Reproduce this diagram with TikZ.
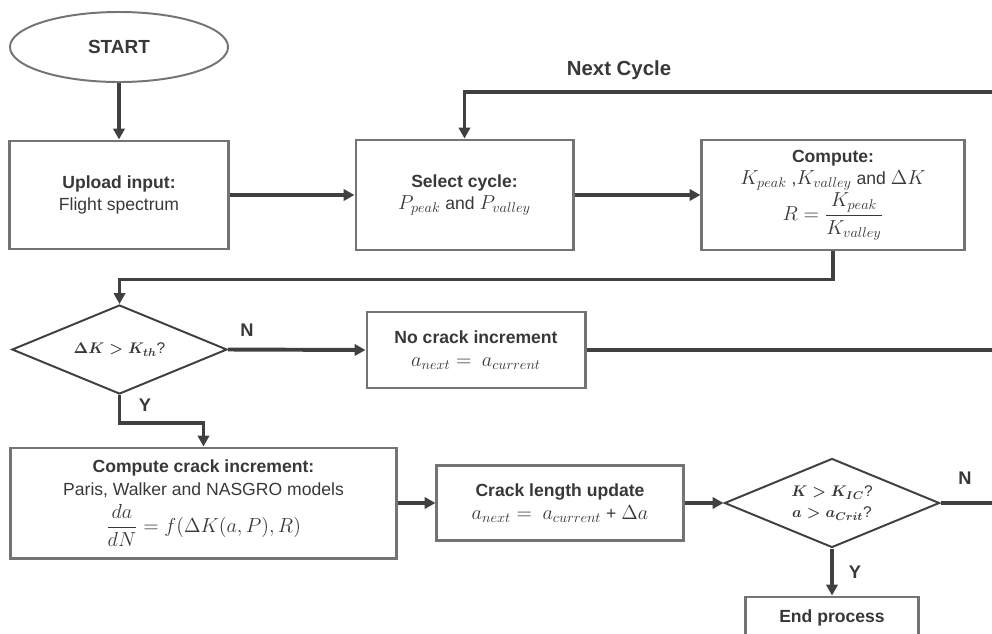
\documentclass[tikz,border=0pt]{standalone}
\usepackage{fontspec}
\setmainfont{Liberation Sans}
\usepackage{amsmath}
\usetikzlibrary{shapes.geometric,arrows.meta}

\DeclareMathSizes{12.5}{13.8}{10}{8}

\definecolor{linegray}{HTML}{404040}
\definecolor{boxgray}{HTML}{747474}
\definecolor{txtgray}{HTML}{383838}

\begin{document}
\begin{tikzpicture}[
                x = 0.025cm, y = -0.025cm,
                > = {Triangle[length=2.7mm, width=2.8mm]},
                every node/.style={ text = txtgray, font = \fontsize{12.5}{16}\selectfont },
                terminal/.style={ ellipse, draw = boxgray, line width = 1.4pt, minimum width = 5.45cm, minimum height = 1.75cm },
                box/.style={ rectangle, draw = boxgray, line width = 2.1pt, align = center },
                decision/.style={ diamond, aspect = 2.4, draw = linegray, line width = 1.4pt, align = center, inner sep = 0pt,
                                  minimum width = 5.375cm, minimum height = 2.225cm,
                                  font = \fontsize{11}{15}\selectfont\boldmath },
                flow/.style={ ->, draw = linegray, line width = 2.8pt },
                wire/.style={ draw = linegray, line width = 2.8pt },
                yn/.style={ font = \bfseries\fontsize{13}{15}\selectfont }
            ]
            \useasboundingbox (0,0) rectangle (992,633);

            \node (start)    [terminal, font=\bfseries\fontsize{13.5}{16}\selectfont] at (119,47) {START};
            \node (upload)   [box, minimum width=5.45cm, minimum height=2.7cm]    at (119,195) {\textbf{Upload input:}\\Flight spectrum};
            \node (select)   [box, minimum width=5.425cm, minimum height=2.75cm]  at (464.5,195) {\textbf{Select cycle:}\\$P_{peak}$ and $P_{valley}$};
            \node (compute)  [box, minimum width=6.55cm, minimum height=2.75cm]   at (833,195) {\textbf{Compute:}\\$K_{peak}$ ,$K_{valley}$ and $\Delta K$\\[1pt]$R = \dfrac{K_{peak}}{K_{valley}}$};
            \node (check)    [decision] at (119.5,349.5) {$\Delta K > K_{th}$?};
            \node (nocrack)  [box, minimum width=5.45cm, minimum height=1.9cm]    at (476,350) {\textbf{No crack increment}\\$a_{next} = \ a_{current}$};
            \node (crackinc) [box, minimum width=9.625cm, minimum height=2.75cm]  at (203.5,503) {\textbf{Compute crack increment:}\\Paris, Walker and NASGRO models\\[4pt]$\dfrac{da}{dN} = f(\Delta K(a,P),R)$};
            \node (update)   [box, minimum width=6.15cm, minimum height=1.875cm]  at (560,503) {\textbf{Crack length update}\\$a_{next} = \ a_{current}$ + $\Delta a$};
            \node (crit)     [decision] at (832,503) {$K > K_{IC}$?\\$a > a_{Crit}$?};
            \node (endp)     [box, minimum width=4.325cm, minimum height=1.05cm]  at (832,618) {\textbf{End process}};

            \coordinate (cycR)  at (992,92);
            \coordinate (skipR) at (992,350);
            \coordinate (goR)   at (992,503);

            \node (nextlbl) [yn, font=\bfseries\fontsize{14.5}{16}\selectfont] at (619,70) {Next Cycle};
            \node (lblN1) [yn] at (247,330) {N};
            \node (lblY1) [yn] at (145,405) {Y};
            \node (lblN2) [yn] at (965,478) {N};
            \node (lblY2) [yn] at (855,572) {Y};

            \draw [flow] (start.south) -- (upload.north);
            \draw [flow] (upload.east) -- (select.west);
            \draw [flow] (select.east) -- (compute.west);
            \draw [flow] (cycR) -| (select.north);
            \draw [flow] (compute.south) -- ++(0,28) -| (check.north);
            \draw [flow] (check.east) -- (nocrack.west);
            \draw [wire] (nocrack.east) -- (skipR);
            \draw [flow] (check.south) -- ++(0,28) -| (crackinc.north);
            \draw [flow] (crackinc.east) -- (update.west);
            \draw [flow] (update.east) -- (crit.west);
            \draw [wire] (crit.east) -- (goR);
            \draw [flow] (crit.south) -- (endp.north);
        \end{tikzpicture}
\end{document}
